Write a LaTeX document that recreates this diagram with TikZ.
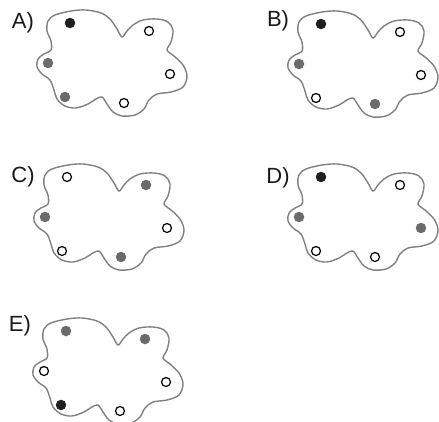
\documentclass[tikz,border=0pt]{standalone}
\usepackage{fontspec}
\setmainfont{Liberation Sans}
\begin{document}
\begin{tikzpicture}[x=1pt,y=-1pt,
  blob/.style={draw=black!50, line width=1.4pt},
  blk/.style={circle, fill=black!88, inner sep=0pt, minimum size=10.5pt},
  gry/.style={circle, fill=black!58, inner sep=0pt, minimum size=10.5pt},
  opn/.style={circle, draw=black, line width=1.2pt, fill=white, inner sep=0pt, minimum size=9pt},
  lbl/.style={font=\fontsize{22}{24}\selectfont, inner sep=0pt, text=black!90},
  blobshape/.pic={
    \draw[blob] plot[smooth cycle, tension=0.55] coordinates {
      (55,15) (71,11) (86,10) (101,13) (110,19) (117,29) (122,37) (127,31) (133,25)
      (143,20) (157,19) (168,22) (173,30) (171,42) (167,50) (174,56) (183,65)
      (187,76) (183,87) (171,92) (157,94) (149,100) (144,109) (135,115) (122,116)
      (113,112) (107,104) (102,97) (96,99) (88,104) (76,108) (65,106) (57,99)
      (54,90) (50,80) (42,74) (37,67) (38,59) (44,54) (51,50) (51,41) (47,31) (48,21)};
  }]
\useasboundingbox (0,0) rectangle (439,421);
% A
\begin{scope}[shift={(0,0)}]
  \pic {blobshape};
  \node[blk] (A1) at (70,23) {};
  \node[opn] (A2) at (149,31) {};
  \node[gry] (A3) at (48,63) {};
  \node[opn] (A4) at (170,74) {};
  \node[gry] (A5) at (65,97) {};
  \node[opn] (A6) at (124,103) {};
\end{scope}
% B
\begin{scope}[shift={(251,1)}]
  \pic {blobshape};
  \node[blk] (B1) at (70,23) {};
  \node[opn] (B2) at (149,31) {};
  \node[gry] (B3) at (48,63) {};
  \node[opn] (B4) at (170,74) {};
  \node[opn] (B5) at (65,97) {};
  \node[gry] (B6) at (124,103) {};
\end{scope}
% C
\begin{scope}[shift={(-3,154)}]
  \pic {blobshape};
  \node[opn] (C1) at (70,23) {};
  \node[gry] (C2) at (149,31) {};
  \node[gry] (C3) at (48,63) {};
  \node[opn] (C4) at (170,74) {};
  \node[opn] (C5) at (65,97) {};
  \node[gry] (C6) at (124,103) {};
\end{scope}
% D
\begin{scope}[shift={(251,154)}]
  \pic {blobshape};
  \node[blk] (D1) at (70,23) {};
  \node[opn] (D2) at (149,31) {};
  \node[gry] (D3) at (48,63) {};
  \node[gry] (D4) at (170,74) {};
  \node[opn] (D5) at (65,97) {};
  \node[opn] (D6) at (124,103) {};
\end{scope}
% E
\begin{scope}[shift={(-4,308)}]
  \pic {blobshape};
  \node[gry] (E1) at (70,23) {};
  \node[gry] (E2) at (149,31) {};
  \node[opn] (E3) at (48,63) {};
  \node[opn] (E4) at (170,74) {};
  \node[blk] (E5) at (65,97) {};
  \node[opn] (E6) at (124,103) {};
\end{scope}
\node[lbl] (LA) at (23,23) {A)};
\node[lbl] (LB) at (278,21) {B)};
\node[lbl] (LC) at (23,177) {C)};
\node[lbl] (LD) at (278,178) {D)};
\node[lbl] (LE) at (20,326) {E)};
\end{tikzpicture}
\end{document}
